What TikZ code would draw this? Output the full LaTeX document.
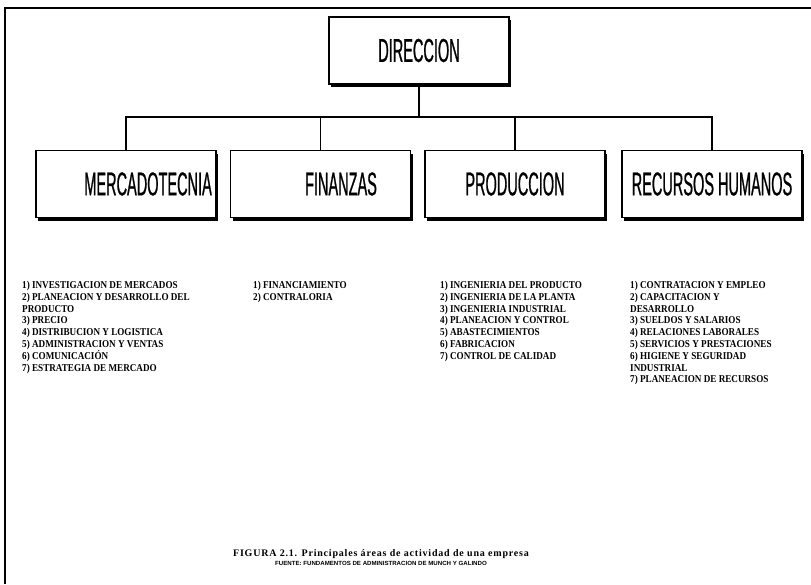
\documentclass[tikz,border=0pt]{standalone}
\usepackage{fontspec}
\setmainfont{Liberation Serif}
\newfontfamily\condsans[FakeStretch=0.44,FakeBold=0.6]{Liberation Sans}
\newfontfamily\listfont[FakeStretch=0.87]{Liberation Serif}
\newfontfamily\capfont[LetterSpace=8]{Liberation Serif}
\newfontfamily\srcfont[FakeStretch=1.02]{Liberation Sans}
\usetikzlibrary{shadows}
\tikzset{
  frame/.style={line width=1.8pt},
  orgbox/.style={draw, line width=1.2pt, fill=white, minimum width=180pt, minimum height=67pt, inner sep=0pt,
    drop shadow={shadow xshift=2pt, shadow yshift=-3pt, fill=black, opacity=1},
    font=\condsans\fontsize{33}{36}\selectfont},
  boxtext/.style={inner sep=0pt, font=\condsans\fontsize{33}{36}\selectfont},
  conn/.style={line width=1.5pt},
  listtext/.style={inner sep=0pt, anchor=north west, align=left, font=\listfont\bfseries\fontsize{10.5}{11.8}\selectfont},
  captext/.style={inner sep=0pt, font=\capfont\bfseries\fontsize{10}{12}\selectfont},
  srctext/.style={inner sep=0pt, font=\srcfont\bfseries\fontsize{6}{7}\selectfont}
}
\begin{document}
\begin{tikzpicture}[x=1pt,y=-1pt]
\useasboundingbox (0,0) rectangle (811,584);
\fill[white] (0,0) rectangle (811,584);
\draw[frame] (5,584) -- (5,8) -- (811,8);

\node[orgbox] (dir) at (419,50.5) {DIRECCION};
\node[orgbox] (m) at (126,184) {};
\node[orgbox] (f) at (320.5,184) {};
\node[orgbox] (p) at (515,184) {PRODUCCION};
\node[orgbox] (r) at (712,184) {RECURSOS HUMANOS};
\node[boxtext, anchor=east] (mt) at (212,184) {MERCADOTECNIA};
\node[boxtext] (ft) at (341,184) {FINANZAS};

\coordinate (bus) at (419,117);
\draw[conn] (dir.south) -- (bus);
\draw[conn] (m.north) -- (m.north |- bus) -- (r.north |- bus) -- (r.north);
\draw[conn] (f.north) -- (f.north |- bus);
\draw[conn] (p.north) -- (p.north |- bus);

\node[listtext] (ml) at (22,281) {1) INVESTIGACION DE MERCADOS\\2) PLANEACION Y DESARROLLO DEL\\PRODUCTO\\3) PRECIO\\4) DISTRIBUCION Y LOGISTICA\\5) ADMINISTRACION Y VENTAS\\6) COMUNICACIÓN\\7) ESTRATEGIA DE MERCADO};
\node[listtext] (fl) at (253,281) {1) FINANCIAMIENTO\\2) CONTRALORIA};
\node[listtext] (pl) at (440,281) {1) INGENIERIA DEL PRODUCTO\\2) INGENIERIA DE LA PLANTA\\3) INGENIERIA INDUSTRIAL\\4) PLANEACION Y CONTROL\\5) ABASTECIMIENTOS\\6) FABRICACION\\7) CONTROL DE CALIDAD};
\node[listtext] (rl) at (630,281) {1) CONTRATACION Y EMPLEO\\2) CAPACITACION Y\\DESARROLLO\\3) SUELDOS Y SALARIOS\\4) RELACIONES LABORALES\\5) SERVICIOS Y PRESTACIONES\\6) HIGIENE Y SEGURIDAD\\INDUSTRIAL\\7) PLANEACION DE RECURSOS};

\node[captext] (cap) at (381,554) {FIGURA 2.1. Principales áreas de actividad de una empresa};
\node[srctext] (src) at (381,563.5) {FUENTE: FUNDAMENTOS DE ADMINISTRACION DE MUNCH Y GALINDO};
\end{tikzpicture}
\end{document}
